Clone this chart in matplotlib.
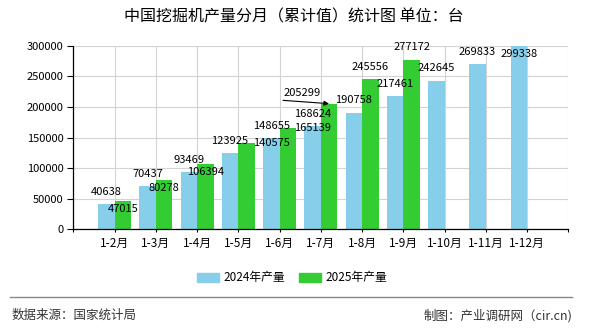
import matplotlib
matplotlib.use('Agg')
import matplotlib.pyplot as plt
from matplotlib.patches import Rectangle
from matplotlib.lines import Line2D

plt.rcParams['font.family'] = ['Noto Sans CJK SC', 'DejaVu Sans']

# data
months = ['1-2月', '1-3月', '1-4月', '1-5月', '1-6月', '1-7月',
          '1-8月', '1-9月', '1-10月', '1-11月', '1-12月']
prod_2024 = [40638, 70437, 93469, 123925, 148655, 168624,
             190758, 217461, 242645, 269833, 299338]
prod_2025 = [47015, 80278, 106394, 140575, 165139, 205299,
             245556, 277172]

title = '中国挖掘机产量分月（累计值）统计图 单位：台'
series_names = ['2024年产量', '2025年产量']
source_txt = '数据来源：国家统计局'
maker_txt = '制图：产业调研网（cir.cn)'

# label offsets (pixels, from the top centre of each bar)
off_2024 = [(0, 12.5)] * 10 + [(0, -8)]
off_2025 = [(0, -8), (0, -8), (0, -8), (25, 0), (25, 0), (-27, 11), (0, 12), (0, 13)]

c_blue = '#87CEEB'
c_green = '#33CC33'
W, H = 590, 330
PT = 72 / 100  # px -> pt

fig = plt.figure(figsize=(W / 100, H / 100), dpi=100)
ax = fig.add_axes([73.3 / W, 1 - 229.3 / H, 495 / W, 183.6 / H])

xs = list(range(1, len(months) + 1))
ax.bar([x - 0.2 for x in xs], prod_2024, width=0.4, color=c_blue, zorder=2)
ax.bar([x + 0.2 for x in xs[:len(prod_2025)]], prod_2025, width=0.4, color=c_green, zorder=2)

ax.set_xlim(0, len(months) + 1)
ax.set_ylim(0, 300000)
ax.set_xticks(range(len(months) + 2))
ax.set_xticklabels([''] + months + [''])
ax.set_yticks(range(0, 300001, 50000))
ax.grid(color='#d3d3d3', lw=0.8)
ax.set_axisbelow(True)
for s in ['top', 'right']:
    ax.spines[s].set_visible(False)
for s in ['left', 'bottom']:
    ax.spines[s].set_linewidth(0.9)
ax.tick_params(axis='y', length=4.5, width=0.8, labelsize=8, pad=2.5)
ax.tick_params(axis='x', length=2.5, width=0.8, labelsize=8.5, pad=3)

for i, v in enumerate(prod_2024):
    dx, dy = off_2024[i]
    ax.annotate(str(v), (xs[i] - 0.2, v), xytext=(dx * PT, dy * PT),
                textcoords='offset points', ha='center', va='center',
                fontsize=8, zorder=5)
for i, v in enumerate(prod_2025):
    dx, dy = off_2025[i]
    ax.annotate(str(v), (xs[i] + 0.2, v), xytext=(dx * PT, dy * PT),
                textcoords='offset points', ha='center', va='center',
                fontsize=8, zorder=5)

# leader line for the moved 1-7月 label
k = 5
ax.annotate('', (xs[k] + 0.2, prod_2025[k]), xytext=(-46 * PT, 3.3 * PT),
            textcoords='offset points',
            arrowprops=dict(arrowstyle='-|>', color='black', lw=0.8,
                            shrinkA=0, shrinkB=0, mutation_scale=7), zorder=5)

fig.text(294 / W, 1 - 17 / H, title, ha='center', va='center', fontsize=11.5)

# legend
for px, col, name in [(197.3, c_blue, series_names[0]), (299, c_green, series_names[1])]:
    fig.patches.append(Rectangle((px / W, 1 - 282 / H), 21.7 / W, 9 / H,
                                 transform=fig.transFigure, color=col))
    fig.text((px + 26) / W, 1 - 277 / H, name, ha='left', va='center', fontsize=8.5)

# footer
fig.add_artist(Line2D([10 / W, 572 / W], [1 - 297.3 / H] * 2, color='#888888', lw=1))
fig.text(11.7 / W, 1 - 315.7 / H, source_txt, ha='left', va='center', fontsize=9, color='#333333')
fig.text(572 / W, 1 - 315.7 / H, maker_txt, ha='right', va='center', fontsize=9, color='#333333')

fig.savefig('out.png', dpi=100)
